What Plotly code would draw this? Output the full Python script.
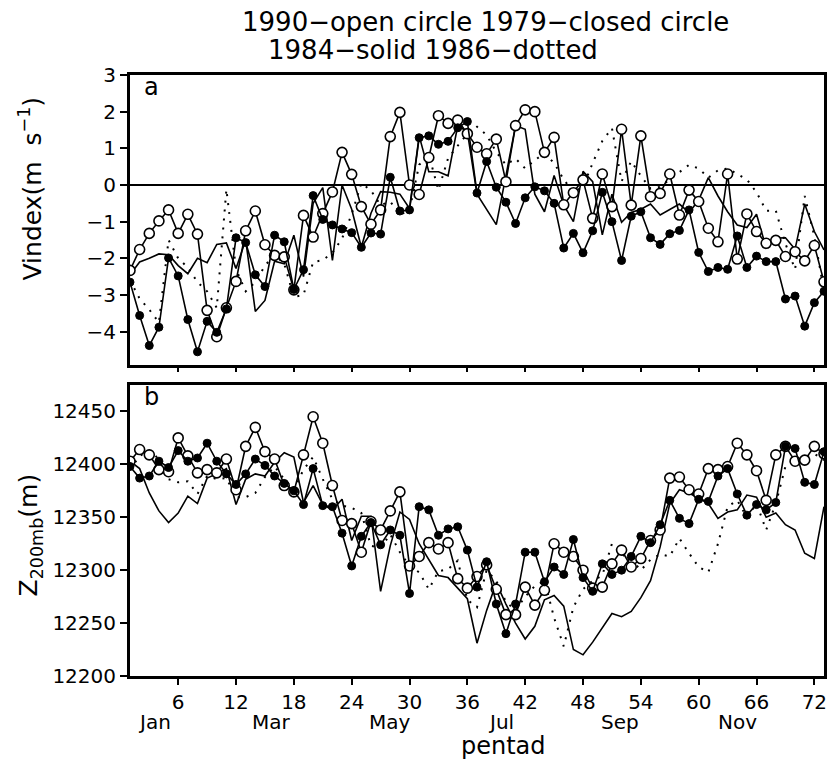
import plotly.graph_objects as go

pentads = list(range(1, 74))
x_ticks = [6, 12, 18, 24, 30, 36, 42, 48, 54, 60, 66, 72]
month_labels = ["Jan", "Mar", "May", "Jul", "Sep", "Nov"]
month_pentads = [3.5, 15.7, 28.0, 39.5, 51.8, 64.0]
vindex_ticks = [-4, -3, -2, -1, 0, 1, 2, 3]
z_ticks = [12200, 12250, 12300, 12350, 12400, 12450]

# Panel a: Vindex (m s-1)
vindex_1990 = [-2.33, -1.76, -1.32, -0.98, -0.68, -1.32, -0.80, -1.34, -3.42, -4.14,
               -3.35, -2.63, -1.25, -0.71, -1.63, -1.92, -1.96, -2.86, -0.83, -1.42,
               -0.78, -0.19, 0.89, 0.29, -0.59, -1.07, -0.68, 1.32, 1.98, 0.00,
               -0.26, 0.75, 1.89, 1.68, 1.77, 1.40, 1.03, 0.85, 1.25, 0.09,
               1.62, 2.05, 2.00, 0.89, 1.30, -0.54, -0.21, 0.14, -0.91, 0.30,
               -0.59, 1.52, -0.55, 1.34, -0.32, -0.23, 0.30, -0.82, -0.14, -0.45,
               -1.18, -1.55, 0.30, -2.02, -0.79, -1.27, -1.59, -1.51, -1.95, -1.82,
               -2.07, -1.65, -2.64]
vindex_1979 = [-2.65, -3.56, -4.38, -3.88, -1.99, -2.48, -3.67, -4.55, -3.72, -4.02,
               -3.38, -1.44, -1.57, -2.45, -2.77, -1.37, -1.55, -2.85, -2.31, -0.29,
               -0.94, -1.09, -1.20, -1.30, -1.70, -1.31, -1.34, 0.21, -0.71, -0.68,
               1.29, 1.34, 1.11, 1.19, 1.56, 1.73, -0.22, 0.64, -0.06, -0.47,
               -1.05, -0.35, -0.05, -0.16, -0.50, -1.72, -1.32, -1.85, -1.25, -0.20,
               -1.00, -2.06, -0.85, -0.73, -1.44, -1.62, -1.33, -1.24, -0.68, -1.84,
               -2.36, -2.25, -2.30, -1.39, -2.25, -1.94, -2.09, -2.09, -3.11, -3.03,
               -3.85, -3.21, -2.90]
vindex_1984 = [-2.45, -2.10, -2.00, -1.88, -1.90, -2.20, -2.42, -2.00, -2.12, -1.62,
               -1.58, -2.28, -1.50, -3.45, -3.15, -2.08, -2.15, -1.37, -2.50, -0.50,
               -0.07, -2.06, 0.00, -0.66, -1.70, -0.77, -0.18, -0.20, -0.25, -0.64,
               1.34, 0.36, 0.36, 0.25, 1.62, 1.45, -0.25, -0.65, -1.08, 0.25,
               1.62, 1.52, -0.25, -0.73, 0.26, -0.55, -1.00, 0.37, 0.09, -1.36,
               -0.25, -1.02, -0.75, -0.66, -0.52, -0.82, -0.66, -0.52, -0.75, -0.41,
               0.20, -0.30, -0.73, -1.09, -1.16, -0.80, -1.72, -1.45, -1.44, -1.75,
               -0.52, -1.27, -1.77]
vindex_1986 = [-2.60, -3.10, -3.40, -3.75, -1.50, -2.00, -2.25, -2.65, -2.90, -3.35,
               -0.12, -2.30, -2.90, -2.65, -2.20, -1.90, -2.15, -3.05, -3.00, -2.10,
               -2.05, -1.85, -1.46, -0.80, 0.05, -0.15, -0.55, -0.45, -0.82, -0.68,
               0.55, 0.82, -0.14, 0.73, 1.07, 1.40, 1.59, 1.36, 0.90, 0.55,
               0.72, 0.45, 0.68, 0.86, 0.60, 0.15, -0.20, -0.05, 0.60, 1.20,
               1.55, 0.10, 0.65, 0.25, -0.10, -0.05, 0.15, 0.35, 0.55, 0.45,
               0.20, 0.40, 0.45, 0.30, 0.15, -0.20, -0.70, -0.70, -1.60, -2.30,
               -0.30, -1.40, -2.90]

# Panel b: Z200mb (m)
z_1990 = [12403, 12414, 12409, 12395, 12393, 12425, 12408, 12392, 12395, 12392,
          12405, 12376, 12417, 12435, 12412, 12405, 12380, 12374, 12409, 12445,
          12420, 12380, 12347, 12344, 12317, 12346, 12338, 12356, 12374, 12304,
          12313, 12326, 12320, 12326, 12292, 12283, 12294, 12305, 12282, 12258,
          12258, 12284, 12267, 12281, 12325, 12317, 12313, 12300, 12283, 12284,
          12306, 12319, 12303, 12311, 12328, 12338, 12387, 12388, 12376, 12372,
          12396, 12395, 12398, 12420, 12409, 12394, 12366, 12409, 12417, 12403,
          12404, 12417, 12410]
z_1979 = [12398, 12387, 12389, 12403, 12397, 12413, 12403, 12406, 12420, 12403,
          12391, 12381, 12391, 12405, 12399, 12389, 12382, 12375, 12362, 12396,
          12361, 12360, 12335, 12304, 12332, 12345, 12324, 12338, 12333, 12278,
          12360, 12357, 12333, 12339, 12341, 12319, 12284, 12308, 12268, 12240,
          12268, 12317, 12317, 12289, 12303, 12296, 12329, 12293, 12280, 12306,
          12296, 12300, 12313, 12332, 12326, 12343, 12366, 12349, 12344, 12367,
          12365, 12389, 12396, 12372, 12352, 12362, 12357, 12364, 12417, 12415,
          12383, 12381, 12412]
z_1984 = [12403, 12396, 12373, 12356, 12345, 12354, 12370, 12363, 12387, 12391,
          12396, 12362, 12386, 12391, 12389, 12402, 12411, 12407, 12364, 12380,
          12362, 12357, 12367, 12328, 12351, 12351, 12280, 12323, 12355, 12348,
          12325, 12310, 12295, 12293, 12283, 12273, 12231, 12262, 12288, 12268,
          12250, 12235, 12247, 12272, 12276, 12266, 12225, 12220, 12232, 12246,
          12259, 12256, 12261, 12274, 12290, 12322, 12363, 12376, 12373, 12368,
          12363, 12349, 12355, 12357, 12371, 12369, 12350, 12354, 12343, 12338,
          12316, 12311, 12360]
z_1986 = [12395, 12408, 12413, 12405, 12386, 12383, 12384, 12372, 12389, 12386,
          12387, 12369, 12369, 12373, 12388, 12398, 12386, 12376, 12395, 12407,
          12386, 12367, 12361, 12359, 12354, 12323, 12321, 12334, 12317, 12304,
          12298, 12282, 12299, 12301, 12309, 12272, 12265, 12300, 12290, 12270,
          12262, 12275, 12285, 12290, 12255, 12228, 12265, 12282, 12290, 12295,
          12325, 12315, 12310, 12300, 12310, 12315, 12313, 12330, 12316, 12303,
          12298, 12325, 12360, 12366, 12350, 12363, 12338, 12363, 12398, 12403,
          12407, 12410, 12404]

FONT = "DejaVu Sans"
W, H = 829, 760
ML, MR, MT, MB = 130, 2, 75, 84
PW = W - ML - MR
PH = H - MT - MB


def px_to_paper_x(px):
    return (px - ML) / PW


def px_to_paper_y(py):
    return (H - MB - py) / PH


fig = go.Figure()


def add_series(xa, ya, vals1986, vals1984, vals1990, vals1979):
    fig.add_trace(go.Scatter(x=pentads, y=vals1986, xaxis=xa, yaxis=ya, mode="lines",
                             line=dict(color="black", width=2, dash="2px,7px"),
                             showlegend=False, hoverinfo="skip"))
    fig.add_trace(go.Scatter(x=pentads, y=vals1984, xaxis=xa, yaxis=ya, mode="lines",
                             line=dict(color="black", width=1.6),
                             showlegend=False, hoverinfo="skip"))
    fig.add_trace(go.Scatter(x=pentads, y=vals1990, xaxis=xa, yaxis=ya, mode="lines+markers",
                             line=dict(color="black", width=1.6),
                             marker=dict(symbol="circle", size=10, color="white",
                                         line=dict(color="black", width=1.6)),
                             showlegend=False, hoverinfo="skip"))
    fig.add_trace(go.Scatter(x=pentads, y=vals1979, xaxis=xa, yaxis=ya, mode="lines+markers",
                             line=dict(color="black", width=1.6),
                             marker=dict(symbol="circle", size=8, color="black",
                                         line=dict(color="black", width=1)),
                             showlegend=False, hoverinfo="skip"))


add_series("x", "y", vindex_1986, vindex_1984, vindex_1990, vindex_1979)
add_series("x2", "y2", z_1986, z_1984, z_1990, z_1979)

axis_common = dict(showline=True, linecolor="black", linewidth=3, mirror=True,
                   showgrid=False,
                   tickfont=dict(family=FONT, size=20, color="black"),
                   tickcolor="black", tickwidth=2)

dom_a = [px_to_paper_y(365), 1.0]
dom_b = [0.0, px_to_paper_y(385)]

fig.update_layout(
    width=W, height=H,
    margin=dict(l=ML, r=MR, t=MT, b=MB),
    paper_bgcolor="white", plot_bgcolor="white",
    font=dict(family=FONT, color="black"),
    xaxis=dict(range=[1, 73], domain=[0, 1], anchor="y", tickvals=x_ticks,
               showticklabels=False, ticks="outside", ticklen=4, zeroline=False,
               **axis_common),
    yaxis=dict(range=[-4.91, 3], domain=dom_a, anchor="x", tickvals=vindex_ticks,
               ticks="outside", ticklen=7, zeroline=True, zerolinecolor="black",
               zerolinewidth=2, **axis_common),
    xaxis2=dict(range=[1, 73], domain=[0, 1], anchor="y2", tickvals=x_ticks,
                ticks="outside", ticklen=6, zeroline=False, **axis_common),
    yaxis2=dict(range=[12200, 12475], domain=dom_b, anchor="x2", tickvals=z_ticks,
                tickformat="d", ticks="outside", ticklen=7, zeroline=False,
                **axis_common),
)

ann = []
ann.append(dict(text="1990−open circle 1979−closed circle", xref="paper", yref="paper",
                x=px_to_paper_x(487), y=px_to_paper_y(22), xanchor="center", yanchor="middle",
                showarrow=False, font=dict(family=FONT, size=26, color="black")))
ann.append(dict(text="1984−solid 1986−dotted", xref="paper", yref="paper",
                x=px_to_paper_x(434), y=px_to_paper_y(50), xanchor="center", yanchor="middle",
                showarrow=False, font=dict(family=FONT, size=26, color="black")))
ann.append(dict(text="a", xref="paper", yref="paper", x=px_to_paper_x(152), y=px_to_paper_y(87),
                xanchor="center", yanchor="middle", showarrow=False,
                font=dict(family=FONT, size=24, color="black")))
ann.append(dict(text="b", xref="paper", yref="paper", x=px_to_paper_x(152), y=px_to_paper_y(397),
                xanchor="center", yanchor="middle", showarrow=False,
                font=dict(family=FONT, size=24, color="black")))
ann.append(dict(text="Vindex(m  s<sup>−1</sup>)", xref="paper", yref="paper",
                x=px_to_paper_x(30), y=px_to_paper_y(188), textangle=-90,
                xanchor="center", yanchor="middle", showarrow=False,
                font=dict(family=FONT, size=25, color="black")))
ann.append(dict(text="Z<sub>200mb</sub>(m)", xref="paper", yref="paper",
                x=px_to_paper_x(30), y=px_to_paper_y(535), textangle=-90,
                xanchor="center", yanchor="middle", showarrow=False,
                font=dict(family=FONT, size=25, color="black")))
for lab, p in zip(month_labels, month_pentads):
    ann.append(dict(text=lab, xref="x2", yref="paper", x=p, y=px_to_paper_y(722),
                    xanchor="center", yanchor="middle", showarrow=False,
                    font=dict(family=FONT, size=20, color="black")))
ann.append(dict(text="pentad", xref="paper", yref="paper", x=px_to_paper_x(505),
                y=px_to_paper_y(746), xanchor="center", yanchor="middle", showarrow=False,
                font=dict(family=FONT, size=24, color="black")))
fig.update_layout(annotations=ann)

fig.write_html("out.html")
